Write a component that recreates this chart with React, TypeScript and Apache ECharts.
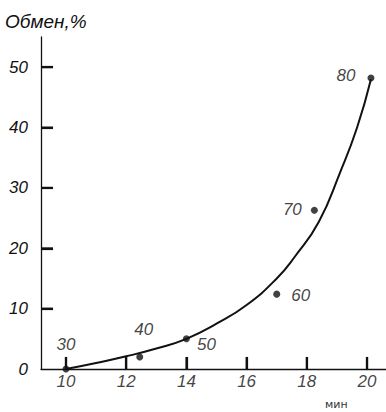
import React, { useEffect, useRef } from "react";
import * as echarts from "echarts";

const curveX = [10, 11, 12, 13, 14, 15, 16, 17, 17.6, 18.4, 19.1, 19.67, 20.13];
const curveY = [0, 1.0, 2.1, 3.4, 5.0, 7.5, 10.6, 15.0, 18.6, 24.4, 32.5, 40, 48.0];

const pointX = [10, 12.45, 14, 17.0, 18.25, 20.13];
const pointY = [0, 2.0, 5.0, 12.4, 26.3, 48.2];
const pointLabels = ["30", "40", "50", "60", "70", "80"];

const xTicks = [10, 12, 14, 16, 18, 20];
const xTickLabels = ["10", "12", "14", "16", "18", "20"];
const yTicks = [10, 20, 30, 40, 50];

const X_MIN = 9.17;
const X_MAX = 20.63;

const FONT = "'Liberation Sans', 'DejaVu Sans', sans-serif";
const INK = "#111111";

const labelOffsets: [number, number][] = [
  [0, -25],
  [4, -27],
  [20, 6],
  [24, 1],
  [-22, -1],
  [-25, -3],
];

export default function App() {
  const ref = useRef<HTMLDivElement>(null);
  useEffect(() => {
    if (!ref.current) return;
    const chart = echarts.init(ref.current, null, { renderer: "svg" });
    chart.setOption({
      animation: false,
      backgroundColor: "#ffffff",
      grid: { left: 41, right: 0, top: 37, bottom: 43, containLabel: false },
      xAxis: {
        type: "value",
        min: X_MIN,
        max: X_MAX,
        splitLine: { show: false },
        axisLine: { show: true, lineStyle: { color: INK, width: 1.3 } },
        axisTick: { show: false },
        axisLabel: { show: false },
      },
      yAxis: {
        type: "value",
        min: 0,
        max: 55,
        interval: 10,
        splitLine: { show: false },
        axisLine: { show: true, lineStyle: { color: INK, width: 1.3 } },
        axisTick: { show: false },
        axisLabel: {
          fontFamily: FONT,
          fontStyle: "italic",
          fontSize: 17,
          color: INK,
          margin: 13,
          showMaxLabel: false,
        },
      },
      graphic: [
        {
          type: "text",
          left: 5,
          top: 12,
          style: {
            text: "Обмен,%",
            fontFamily: FONT,
            fontStyle: "italic",
            fontSize: 19,
            fill: INK,
          },
        },
        {
          type: "text",
          left: 325,
          top: 399,
          style: {
            text: "мин",
            fontFamily: "'DejaVu Sans', sans-serif",
            fontSize: 11,
            fill: "#333",
          },
        },
      ],
      series: [
        {
          type: "line",
          silent: true,
          showSymbol: false,
          data: [],
          markLine: {
            silent: true,
            symbol: ["none", "none"],
            label: { show: false },
            lineStyle: { color: INK, width: 2.2, type: "solid" },
            data: [
              ...xTicks.map((x) => [
                { coord: [x, 0] },
                { coord: [x, 2] },
              ]),
              ...yTicks.map((y) => [
                { coord: [X_MIN, y] },
                { coord: [X_MIN + 0.4, y] },
              ]),
            ],
          },
          z: 5,
        },
        {
          type: "scatter",
          silent: true,
          data: xTicks.map((x, i) => ({
            value: [x, 0],
            label: { formatter: xTickLabels[i] },
          })),
          symbol: "rect",
          symbolSize: [2.2, 12],
          symbolOffset: [0, -6],
          itemStyle: { color: INK },
          label: {
            show: true,
            position: "bottom",
            distance: 4,
            fontFamily: FONT,
            fontStyle: "italic",
            fontSize: 17,
            color: INK,
          },
          z: 5,
        },
        {
          type: "scatter",
          silent: true,
          data: yTicks.map((y) => [X_MIN, y]),
          symbol: "rect",
          symbolSize: [12, 2.2],
          symbolOffset: [6, 0],
          itemStyle: { color: INK },
          z: 5,
        },
        {
          type: "line",
          data: curveX.map((x, i) => [x, curveY[i]]),
          smooth: 0.5,
          showSymbol: false,
          lineStyle: { color: INK, width: 2 },
          z: 2,
          silent: true,
        },
        {
          type: "scatter",
          data: pointX.map((x, i) => ({
            value: [x, pointY[i]],
            label: {
              show: true,
              formatter: pointLabels[i],
              position: "inside",
              offset: labelOffsets[i],
            },
          })),
          symbolSize: 7,
          itemStyle: { color: INK },
          label: {
            fontFamily: FONT,
            fontStyle: "italic",
            fontSize: 17,
            color: INK,
          },
          z: 6,
        },
      ],
    });
    return () => chart.dispose();
  }, []);
  return (
    <div
      ref={ref}
      style={{ position: "fixed", left: 0, top: 0, width: 386, height: 412 }}
    />
  );
}
